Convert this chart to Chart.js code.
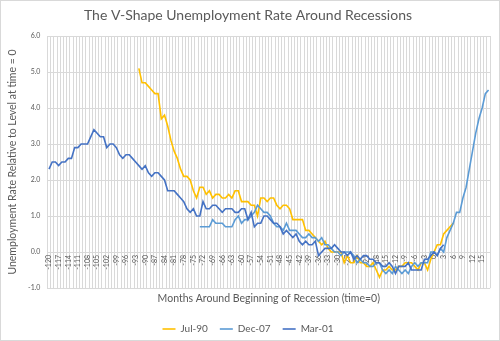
<!DOCTYPE html>
<html>
<head>
<meta charset="utf-8">
<script src="https://cdn.jsdelivr.net/npm/chart.js@4.4.1/dist/chart.umd.min.js"></script>
<style>
  html, body { margin: 0; padding: 0; background: #ffffff; }
  #c { display: block; }
</style>
</head>
<body>
<canvas id="c" width="500" height="341"></canvas>
<script>
// Months relative to the start of each recession (time = 0)
const months = [
  -120,-119,-118,-117,-116,-115,-114,-113,-112,-111,-110,-109,-108,-107,-106,-105,-104,-103,-102,-101,
  -100,-99,-98,-97,-96,-95,-94,-93,-92,-91,-90,-89,-88,-87,-86,-85,-84,-83,-82,-81,
  -80,-79,-78,-77,-76,-75,-74,-73,-72,-71,-70,-69,-68,-67,-66,-65,-64,-63,-62,-61,
  -60,-59,-58,-57,-56,-55,-54,-53,-52,-51,-50,-49,-48,-47,-46,-45,-44,-43,-42,-41,
  -40,-39,-38,-37,-36,-35,-34,-33,-32,-31,-30,-29,-28,-27,-26,-25,-24,-23,-22,-21,
  -20,-19,-18,-17,-16,-15,-14,-13,-12,-11,-10,-9,-8,-7,-6,-5,-4,-3,-2,-1,
  0,1,2,3,4,5,6,7,8,9,10,11,12,13,14,15,16,17
];

// Unemployment rate minus its level at time = 0 (percentage points)
const jul90Start = -92;
const jul90 = [
  5.1, 4.7, 4.7, 4.6, 4.5, 4.4, 4.4, 3.7, 3.8, 3.5,
  3.1, 2.8, 2.6, 2.3, 2.1, 2.1, 2.0, 1.7, 1.5, 1.8,
  1.8, 1.6, 1.7, 1.5, 1.6, 1.6, 1.5, 1.5, 1.6, 1.5,
  1.7, 1.7, 1.4, 1.4, 1.4, 1.3, 1.3, 1.0, 1.5, 1.5,
  1.4, 1.5, 1.5, 1.3, 1.2, 1.3, 1.3, 1.2, 0.9, 0.9,
  0.9, 0.9, 0.6, 0.6, 0.5, 0.4, 0.3, 0.2, 0.3, 0.1,
  0.0, 0.0, 0.0, 0.0, -0.3, -0.1, -0.3, -0.3, -0.1, -0.3,
  -0.3, -0.4, -0.4, -0.3, -0.5, -0.7, -0.5, -0.5, -0.4, -0.5,
  -0.5, -0.4, -0.4, -0.3, -0.3, -0.3, -0.4, -0.5, -0.3, -0.3,
  -0.5, -0.2, 0.0, 0.2, 0.2, 0.5, 0.6, 0.7, 0.8
];

const dec07Start = -73;
const dec07 = [
  0.7,
  0.7, 0.7, 0.7, 0.9, 0.8, 0.8, 0.8, 0.7, 0.7, 0.7,
  0.9, 1.0, 0.8, 0.9, 0.9, 1.0, 1.1, 1.3, 1.2, 1.1,
  1.1, 1.0, 0.8, 0.7, 0.7, 0.6, 0.8, 0.6, 0.6, 0.6,
  0.5, 0.4, 0.4, 0.5, 0.4, 0.4, 0.3, 0.4, 0.2, 0.2,
  0.1, 0.0, 0.0, -0.1, 0.0, 0.0, 0.0, -0.1, -0.3, -0.2,
  -0.3, -0.3, -0.4, -0.4, -0.3, -0.3, -0.5, -0.6, -0.5, -0.6,
  -0.4, -0.5, -0.6, -0.5, -0.6, -0.4, -0.3, -0.4, -0.3, -0.3,
  -0.3, 0.0, 0.0, -0.1, 0.1, 0.0, 0.4, 0.6, 0.8, 1.1,
  1.1, 1.5, 1.8, 2.3, 2.8, 3.3, 3.7, 4.0, 4.4, 4.5
];

const mar01Start = -120;
const mar01 = [
  2.3, 2.5, 2.5, 2.4, 2.5, 2.5, 2.6, 2.6, 2.9, 2.9,
  3.0, 3.0, 3.0, 3.2, 3.4, 3.3, 3.2, 3.2, 2.9, 3.0,
  3.0, 2.9, 2.7, 2.6, 2.7, 2.7, 2.6, 2.5, 2.4, 2.3,
  2.4, 2.2, 2.1, 2.2, 2.2, 2.1, 2.0, 1.7, 1.7, 1.7,
  1.6, 1.5, 1.4, 1.2, 1.1, 1.2, 1.0, 1.0, 1.4, 1.2,
  1.2, 1.3, 1.3, 1.2, 1.1, 1.2, 1.2, 1.2, 1.1, 1.1,
  1.2, 1.2, 0.9, 1.1, 0.7, 0.8, 0.8, 1.0, 1.0, 0.9,
  0.8, 0.8, 0.7, 0.5, 0.6, 0.5, 0.4, 0.5, 0.3, 0.2,
  0.3, 0.2, 0.2, 0.3, -0.1, 0.0, 0.1, 0.1, 0.1, 0.2,
  0.1, 0.0, 0.0, -0.1, 0.0, -0.2, -0.1, -0.2, -0.1, -0.1,
  -0.2, -0.2, -0.3, -0.3, -0.4, -0.4, -0.3, -0.4, -0.6, -0.4,
  -0.4, -0.4, -0.3, -0.5, -0.5, -0.5, -0.5, -0.2, -0.2, -0.1,
  0.0, -0.1, 0.1, 0.2
];

const seriesNames = ['Jul-90', 'Dec-07', 'Mar-01'];
const seriesColors = ['#FFC000', '#5B9BD5', '#4472C4'];
const yTicks = [-1, 0, 1, 2, 3, 4, 5, 6];

const FONT = 'Lato, "Open Sans", sans-serif';
const TEXT = '#595959';
const GRID = '#D9D9D9';

// Place a series that starts at a given month onto the shared month axis
function onMonthAxis(start, values) {
  return months.map(m => {
    const i = m - start;
    return i >= 0 && i < values.length ? values[i] : null;
  });
}

const seriesData = [
  onMonthAxis(jul90Start, jul90),
  onMonthAxis(dec07Start, dec07),
  onMonthAxis(mar01Start, mar01)
];

// White background and light outer border
const frame = {
  id: 'frame',
  beforeDraw(chart) {
    const ctx = chart.ctx;
    ctx.save();
    ctx.fillStyle = '#ffffff';
    ctx.fillRect(0, 0, chart.width, chart.height);
    ctx.strokeStyle = GRID;
    ctx.lineWidth = 1;
    ctx.strokeRect(0.5, 0.5, chart.width - 1, chart.height - 1);
    ctx.restore();
  }
};

new Chart(document.getElementById('c'), {
  type: 'line',
  data: {
    labels: months,
    datasets: seriesNames.map((name, k) => ({
      label: name,
      data: seriesData[k],
      borderColor: seriesColors[k],
      backgroundColor: seriesColors[k],
      borderWidth: 1.6,
      pointRadius: 0,
      pointStyle: 'line',
      tension: 0,
      spanGaps: false,
      order: seriesNames.length - k
    }))
  },
  options: {
    responsive: false,
    animation: false,
    devicePixelRatio: 1,
    layout: { padding: { left: 4, right: 8, top: 0, bottom: -3 } },
    plugins: {
      title: {
        display: true,
        text: 'The V-Shape Unemployment Rate Around Recessions',
        color: TEXT,
        font: { family: FONT, size: 14, weight: 'normal' },
        padding: { top: 7.5, bottom: 11.7 }
      },
      legend: {
        position: 'bottom',
        labels: {
          color: TEXT,
          font: { family: FONT, size: 10 },
          usePointStyle: true,
          pointStyle: 'line',
          pointStyleWidth: 13,
          padding: 12,
          sort: (a, b) => a.datasetIndex - b.datasetIndex
        }
      },
      tooltip: { enabled: false }
    },
    scales: {
      x: {
        type: 'category',
        position: { y: 0 },
        offset: true,
        grid: { color: GRID, offset: true, drawTicks: false },
        border: { color: GRID },
        ticks: {
          autoSkip: false,
          minRotation: 90,
          maxRotation: 90,
          padding: 3,
          color: TEXT,
          font: { family: FONT, size: 7 },
          callback: (v, i) => (i % 3 === 0 ? String(months[i]) : '')
        }
      },
      xTitle: {
        type: 'category',
        axis: 'x',
        position: 'bottom',
        offset: true,
        grid: { display: false, drawTicks: false },
        border: { display: false },
        ticks: { display: false },
        title: {
          display: true,
          text: 'Months Around Beginning of Recession (time=0)',
          color: TEXT,
          font: { family: FONT, size: 10.5 },
          padding: { top: 4, bottom: 7 }
        },
        afterFit: s => { s.height = 24; }
      },
      y: {
        min: -1,
        max: 6,
        afterBuildTicks: s => { s.ticks = yTicks.map(v => ({ value: v })); },
        grid: { color: GRID, drawTicks: false },
        border: { display: false },
        ticks: {
          padding: 7,
          color: TEXT,
          font: { family: FONT, size: 7 },
          callback: v => Number(v).toFixed(1)
        },
        title: {
          display: true,
          text: 'Unemployment Rate Relative to Level at time = 0',
          color: TEXT,
          font: { family: FONT, size: 10.5 },
          padding: { top: 2, bottom: 0 }
        },
        afterFit: s => { s.width = 43.4; }
      }
    }
  },
  plugins: [frame]
});
</script>
</body>
</html>
